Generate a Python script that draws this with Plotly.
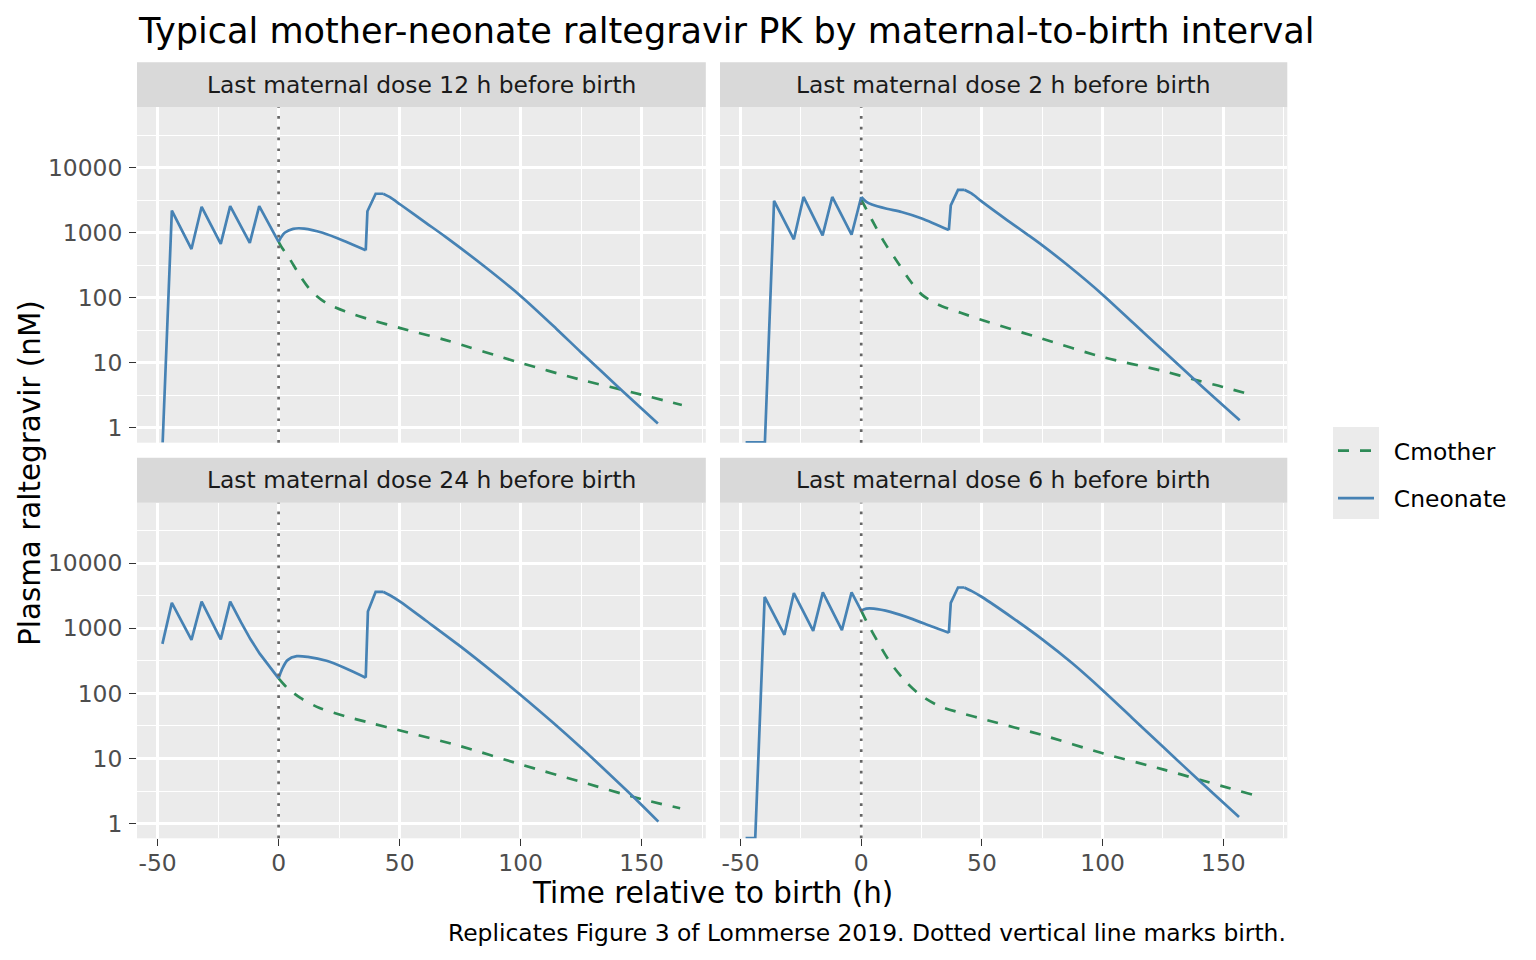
import plotly.graph_objects as go
from plotly.subplots import make_subplots

W, H = 1536, 960

# facet labels, in panel order: top-left, top-right, bottom-left, bottom-right
facets = ["Last maternal dose 12 h before birth", "Last maternal dose 2 h before birth",
          "Last maternal dose 24 h before birth", "Last maternal dose 6 h before birth"]

# 12 h panel
t_neo_12 = [-47.9, -44.1, -36.0, -31.8, -23.9, -20.0, -11.9, -8.0, 0, 1.0, 2.5, 6.0, 10.6, 18.2, 27.4, 36.0,
            36.7, 40.1, 43.2, 45.8, 50.3, 61, 68.7, 85.5, 100, 114.6, 125, 140.6, 156.7]
c_neo_12 = [0.6, 2190, 562, 2510, 676, 2570, 700, 2570, 724, 850, 1000, 1150, 1160, 1000, 740, 537,
            2140, 3980, 3980, 3550, 2720, 1410, 880, 295, 107, 33.9, 14.5, 4.17, 1.17]
t_mom_12 = [0, 1.4, 4.4, 9.0, 13.6, 19.7, 27.4, 38.1, 50.3, 68.7, 100, 125, 142, 166.6]
c_mom_12 = [724, 589, 407, 214, 126, 83, 62, 46, 34.3, 22.6, 10, 5.5, 3.85, 2.26]

# 2 h panel
t_neo_2 = [-47.9, -39.9, -36.1, -27.9, -23.9, -16.0, -12.0, -4.0, 0, 2.0, 4.4, 10.6, 16.7, 25.1, 36.3,
           37.1, 40.1, 42.7, 45.8, 50, 60.4, 68.6, 74.9, 86.6, 100, 112.5, 125, 140.5, 156.8]
c_neo_2 = [0.6, 0.6, 3090, 794, 3550, 912, 3550, 933, 3550, 3020, 2720, 2340, 2090, 1660, 1100,
           2630, 4570, 4570, 3980, 3006, 1567, 955, 646, 295, 112, 41.7, 15.5, 4.57, 1.31]
t_mom_2 = [0, 4.4, 9.8, 15.2, 20.5, 25.1, 32, 41.2, 50, 74.9, 100, 125, 140.3, 149.9, 162.5]
c_mom_2 = [3240, 1585, 692, 347, 178, 112, 78.5, 58.9, 45.7, 23.6, 12.3, 7.5, 5.25, 4.27, 3.16]

# 24 h panel
t_neo_24 = [-48.0, -44.1, -36.0, -31.8, -23.9, -20.0, -15.5, -11.6, -7.8, -4.0, 0, 1.4, 3.7, 7.5, 12.1,
            19.8, 27.4, 36.0, 36.9, 40.1, 43.2, 45.8, 50.2, 60.8, 75, 88.3, 100, 113.2, 125, 143.5, 150,
            156.9]
c_neo_24 = [575, 2455, 661, 2570, 676, 2570, 1230, 676, 407, 263, 170, 234, 324, 372, 363,
            316, 245, 174, 1800, 3630, 3630, 3240, 2570, 1315, 531, 216, 94.6, 36, 14.6, 3.3, 1.93,
            1.07]
t_mom_24 = [0, 3.7, 9.0, 16.7, 27.4, 38.1, 47, 75, 100, 125, 150, 165.9]
c_mom_24 = [170, 120, 85, 60, 44.7, 35, 28.8, 15.5, 8.1, 4.37, 2.37, 1.72]

# 6 h panel
t_neo_6 = [-47.9, -43.9, -40.0, -31.8, -27.9, -19.9, -15.9, -8.0, -4.0, 0, 2.1, 5.2, 12.1, 21.3, 29.0,
           36.3, 37.1, 40.1, 42.7, 45.8, 50, 62.7, 75, 87.2, 100, 112.9, 125, 140.3, 156.5]
c_neo_6 = [0.6, 0.6, 3020, 794, 3470, 912, 3550, 933, 3550, 1860, 2000, 2000, 1780, 1380, 1070,
           851, 2455, 4220, 4220, 3715, 3020, 1445, 676, 295, 112, 39.8, 15.1, 4.47, 1.26]
t_mom_6 = [0, 2.1, 7.5, 12.1, 18.2, 24.3, 32, 41.2, 50, 75, 100, 125, 140.3, 162.5]
c_mom_6 = [1860, 1290, 562, 295, 155, 95.5, 64.6, 50.1, 40.7, 22.9, 12.0, 6.8, 4.7, 2.75]

x_ticks = [-50, 0, 50, 100, 150]
x_tick_text = ["-50", "0", "50", "100", "150"]
x_minor = [-25, 25, 75, 125, 175]
y_ticks = [1, 10, 100, 1000, 10000]
y_tick_text = ["1", "10", "100", "1000", "10000"]
y_minor = [3.1623, 31.623, 316.23, 3162.3, 31623]

panels = [
    (1, 1, t_mom_12, c_mom_12, t_neo_12, c_neo_12),
    (1, 2, t_mom_2, c_mom_2, t_neo_2, c_neo_2),
    (2, 1, t_mom_24, c_mom_24, t_neo_24, c_neo_24),
    (2, 2, t_mom_6, c_mom_6, t_neo_6, c_neo_6),
]

GREEN = "#2E8B57"
BLUE = "#4682B4"
FONT = "DejaVu Sans"
SP = "\u00a0\u00a0"


def pieces(t, c):
    # sharp parts (dosing saw-tooth, post-birth jump) stay linear,
    # the smooth decay parts are drawn as splines
    b = t.index(0)
    j = next(i for i in range(b + 1, len(c) - 1) if c[i + 1] > 2 * c[i])
    p = next(i for i in range(j + 1, len(c) - 1) if c[i + 1] < c[i] and t[i] > t[j + 2])
    return [(0, b, "linear"), (b, j, "spline"), (j, p, "linear"), (p, len(t) - 1, "spline")]


fig = make_subplots(rows=2, cols=2)

for i, (r, c, tm, cm, tn, cn) in enumerate(panels):
    fig.add_trace(go.Scatter(x=tm, y=cm, mode="lines", name=SP + "Cmother",
                             line=dict(color=GREEN, width=2.7, dash="11px,11px", shape="spline",
                                       smoothing=0.8),
                             legendgroup="m", showlegend=(i == 0)), row=r, col=c)
    for n, (a, e, shp) in enumerate(pieces(tn, cn)):
        fig.add_trace(go.Scatter(x=tn[a:e + 1], y=cn[a:e + 1], mode="lines", name=SP + "Cneonate",
                                 line=dict(color=BLUE, width=2.7, shape=shp, smoothing=0.8),
                                 legendgroup="n", showlegend=(i == 0 and n == 0)), row=r, col=c)

# panel placement in pixels
px_left = [137, 705.8]
px_right = [720, 1287.3]
py_top = [107.3, 442.7]
py_bot = [502.7, 838.3]


def xdom(p):
    return [p[0] / W, p[1] / W]


def ydom(p):
    return [1 - p[1] / H, 1 - p[0] / H]


doms = {1: (px_left, py_top), 2: (px_right, py_top), 3: (px_left, py_bot), 4: (px_right, py_bot)}

for k, (xd, yd) in doms.items():
    sfx = "" if k == 1 else str(k)
    bottom = k in (3, 4)
    left = k in (1, 3)
    fig.layout["xaxis" + sfx].update(
        domain=xdom(xd), range=[-58.5, 176.5], zeroline=False,
        tickmode="array", tickvals=x_ticks, ticktext=x_tick_text,
        showgrid=True, gridcolor="white", gridwidth=2.7,
        minor=dict(tickmode="array", tickvals=x_minor, showgrid=True, gridcolor="white", gridwidth=1.35),
        ticks="outside" if bottom else "", ticklen=7, tickwidth=1.4, tickcolor="#333333",
        showticklabels=bottom, tickfont=dict(family=FONT, size=23.4, color="#4D4D4D"),
        ticklabelstandoff=-3, showline=False, anchor="y" + sfx,
    )
    fig.layout["yaxis" + sfx].update(
        domain=ydom(yd), type="log", range=[-0.226, 4.928],
        tickmode="array", tickvals=y_ticks, ticktext=y_tick_text,
        showgrid=True, gridcolor="white", gridwidth=2.7,
        minor=dict(tickmode="array", tickvals=y_minor, showgrid=True, gridcolor="white", gridwidth=1.35),
        ticks="outside" if left else "", ticklen=7, tickwidth=1.4, tickcolor="#333333",
        showticklabels=left, tickfont=dict(family=FONT, size=23.4, color="#4D4D4D"),
        ticklabelstandoff=2, showline=False, anchor="x" + sfx, zeroline=False,
    )
    # dotted line at birth
    fig.add_shape(type="line", xref="x" + sfx, yref="y" + sfx + " domain",
                  x0=0, x1=0, y0=0, y1=1, layer="above",
                  line=dict(color="#666666", width=2.7, dash="2.7px,8.1px"))

# strips
for k, (xd, yd) in doms.items():
    top = yd[0] - 45
    fig.add_shape(type="rect", xref="paper", yref="paper",
                  x0=xd[0] / W, x1=xd[1] / W, y0=1 - yd[0] / H, y1=1 - top / H,
                  fillcolor="#D9D9D9", line=dict(width=0), layer="below")
    fig.add_annotation(text=facets[k - 1], xref="paper", yref="paper",
                       x=(xd[0] + xd[1]) / 2 / W, y=1 - (top + yd[0]) / 2 / H,
                       xanchor="center", yanchor="middle", showarrow=False,
                       font=dict(family=FONT, size=23.4, color="#1A1A1A"))

# legend key background
fig.add_shape(type="rect", xref="paper", yref="paper",
              x0=1333 / W, x1=1379 / W, y0=1 - 519 / H, y1=1 - 427 / H,
              fillcolor="#EBEBEB", line=dict(width=0), layer="below")

fig.add_annotation(text="Typical mother-neonate raltegravir PK by maternal-to-birth interval",
                   xref="paper", yref="paper", x=136 / W, y=1 - 30 / H,
                   xanchor="left", yanchor="middle", showarrow=False,
                   font=dict(family=FONT, size=35.1, color="black"))
fig.add_annotation(text="Time relative to birth (h)", xref="paper", yref="paper",
                   x=712 / W, y=1 - 893 / H, xanchor="center", yanchor="middle", showarrow=False,
                   font=dict(family=FONT, size=29.4, color="black"))
fig.add_annotation(text="Plasma raltegravir (nM)", xref="paper", yref="paper",
                   x=30 / W, y=1 - 473 / H, xanchor="center", yanchor="middle", showarrow=False,
                   textangle=-90, font=dict(family=FONT, size=29.4, color="black"))
fig.add_annotation(text="Replicates Figure 3 of Lommerse 2019. Dotted vertical line marks birth.",
                   xref="paper", yref="paper", x=1288 / W, y=1 - 933 / H,
                   xanchor="right", yanchor="middle", showarrow=False,
                   font=dict(family=FONT, size=23.4, color="black"))

fig.update_layout(
    width=W, height=H,
    margin=dict(l=0, r=0, t=0, b=0),
    paper_bgcolor="white", plot_bgcolor="#EBEBEB",
    font=dict(family=FONT),
    showlegend=True,
    legend=dict(x=1333 / W, y=1 - 429 / H, xanchor="left", yanchor="top",
                bgcolor="rgba(0,0,0,0)", font=dict(family=FONT, size=23.4, color="black"),
                tracegroupgap=14, itemwidth=36, title=dict(text="")),
)

# page margin off so the figure sits at the top-left corner of the window
fig.write_html("out.html", config={"displayModeBar": False},
               post_script="document.body.style.margin='0';")
